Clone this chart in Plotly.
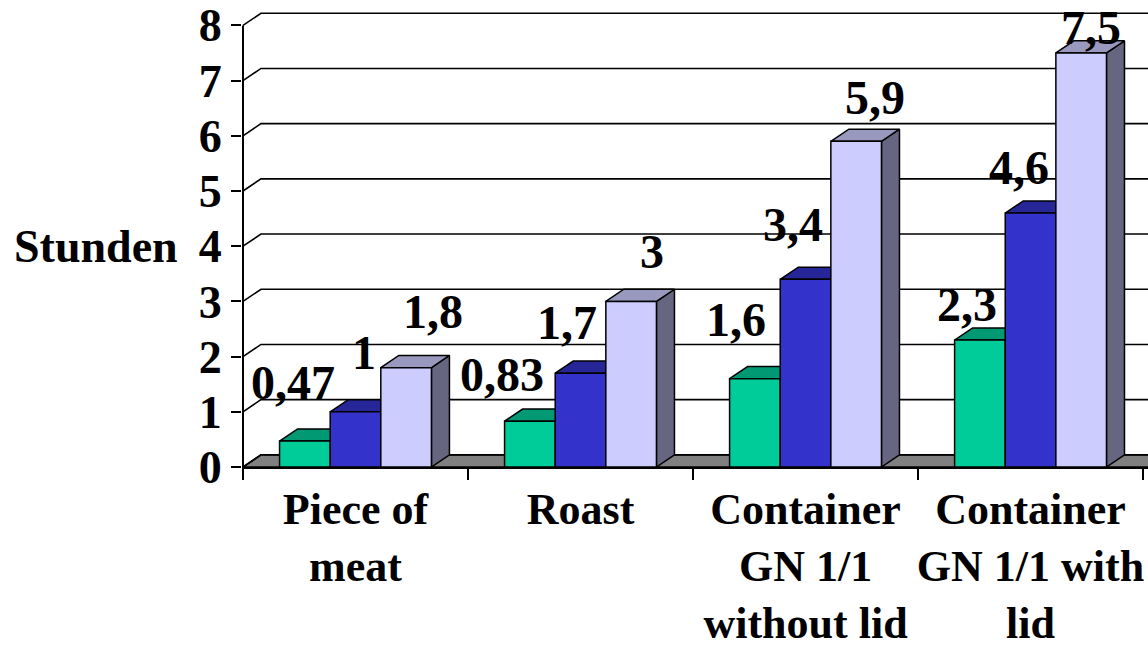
import plotly.graph_objects as go

# ---- data -------------------------------------------------------------
categories = ["Piece of<br>meat", "Roast", "Container<br>GN 1/1<br>without lid",
              "Container<br>GN 1/1 with<br>lid"]
series_1 = [0.47, 0.83, 1.6, 2.3]
series_2 = [1, 1.7, 3.4, 4.6]
series_3 = [1.8, 3, 5.9, 7.5]
y_ticks = [0, 1, 2, 3, 4, 5, 6, 7, 8]
y_title = "Stunden"

# ---- styling ----------------------------------------------------------
FONT = "Liberation Serif, Times New Roman, serif"
BAR_W = 0.225          # width of one bar in category units
DX, DY = 0.08, 0.22    # oblique depth offset (x in category units, y in hours)
X_RANGE = [-0.0044, 4.022]
Y_RANGE = [0, 8.46]
X_END = 4.3            # wall/floor run past the right edge

# face colours: front, top, side
COLORS = [
    ("#00CC99", "#009973", "#00664D"),
    ("#3333CC", "#262699", "#1A1A66"),
    ("#CCCCFF", "#9999BF", "#666680"),
]
# label placement nudges (px): horizontal shift, baseline height above bar top
LABEL_DX = [[-12, -28, -19, -13], [8, -14, -13, -12], [27, 21, 19, 10]]
LABEL_RISE = [[29, 17, 30, 6], [30, 21, 25, 16], [26, 20, 14, -4]]
DESCENT = 11

series = [series_1, series_2, series_3]
centers = [i + 0.5 for i in range(len(categories))]

fig = go.Figure()

# floor
fig.add_trace(go.Scatter(
    x=[0, X_END, X_END, DX, 0], y=[0, 0, DY, DY, 0],
    mode="lines", fill="toself", fillcolor="#808080",
    line=dict(color="black", width=1.5), hoverinfo="skip", showlegend=False))

# back-wall gridlines with their side-wall connectors
gx, gy = [], []
for v in y_ticks:
    gx += [0, DX, X_END, None]
    gy += [v, v + DY, v + DY, None]
fig.add_trace(go.Scatter(x=gx, y=gy, mode="lines",
                         line=dict(color="black", width=1.6),
                         hoverinfo="skip", showlegend=False))

# value axis line
fig.add_trace(go.Scatter(x=[0, 0], y=[y_ticks[0], y_ticks[-1]], mode="lines",
                         line=dict(color="black", width=2),
                         hoverinfo="skip", showlegend=False))

# side and top faces of the bars
for s, vals in enumerate(series):
    front, top, side = COLORS[s]
    sx, sy, tx, ty = [], [], [], []
    for i, v in enumerate(vals):
        xl = centers[i] + (s - 1) * BAR_W - BAR_W / 2
        xr = xl + BAR_W
        sx += [xr, xr + DX, xr + DX, xr, xr, None]
        sy += [0, DY, v + DY, v, 0, None]
        tx += [xl, xr, xr + DX, xl + DX, xl, None]
        ty += [v, v, v + DY, v + DY, v, None]
    fig.add_trace(go.Scatter(x=sx, y=sy, mode="lines", fill="toself", fillcolor=side,
                             line=dict(color="black", width=1.5),
                             hoverinfo="skip", showlegend=False))
    fig.add_trace(go.Scatter(x=tx, y=ty, mode="lines", fill="toself", fillcolor=top,
                             line=dict(color="black", width=1.5),
                             hoverinfo="skip", showlegend=False))

# front faces (overlaid axes so they sit above the side/top faces)
for s, vals in enumerate(series):
    fig.add_trace(go.Bar(
        x=[c + (s - 1) * BAR_W for c in centers], y=vals, width=BAR_W,
        marker=dict(color=COLORS[s][0], line=dict(color="black", width=1.5)),
        xaxis="x2", yaxis="y2", showlegend=False))

# value labels
annotations = []
for s, vals in enumerate(series):
    for i, v in enumerate(vals):
        annotations.append(dict(
            x=centers[i] + (s - 1) * BAR_W, y=v + DY, xref="x2", yref="y2",
            text=f"{v:g}".replace(".", ","), showarrow=False,
            xanchor="center", yanchor="bottom",
            xshift=LABEL_DX[s][i], yshift=LABEL_RISE[s][i] - DESCENT,
            font=dict(family=FONT, size=48, color="black", weight="bold")))

annotations.append(dict(
    x=-(242 - 180) / 906, y=4, xref="paper", yref="y",
    text=y_title, showarrow=False, xanchor="right", yanchor="middle",
    font=dict(family=FONT, size=46, color="black", weight="bold")))

fig.update_layout(
    width=1148, height=649,
    margin=dict(l=242, r=0, t=0, b=182, autoexpand=False),
    paper_bgcolor="white", plot_bgcolor="white",
    barmode="overlay",
    xaxis=dict(range=X_RANGE, tickmode="array", tickvals=[0, 1, 2, 3, 4],
               ticks="outside", ticklen=11, tickwidth=2, tickcolor="black",
               showticklabels=False, showline=True, linecolor="black", linewidth=2,
               showgrid=False, zeroline=False, automargin=False),
    xaxis2=dict(range=X_RANGE, overlaying="x", anchor="y2", side="bottom",
                tickmode="array", tickvals=centers, ticktext=categories,
                ticks="", tickangle=0, ticklabelstandoff=12,
                showline=False, showgrid=False, zeroline=False, automargin=False,
                tickfont=dict(family=FONT, size=44, color="black", weight="bold")),
    yaxis=dict(range=Y_RANGE, tickmode="array", tickvals=y_ticks,
               ticks="outside", ticklen=10, tickwidth=2, tickcolor="black",
               showline=False, showgrid=False, zeroline=False, automargin=False,
               ticklabeloverflow="allow",
               tickfont=dict(family=FONT, size=46, color="black", weight="bold")),
    yaxis2=dict(range=Y_RANGE, overlaying="y", visible=False),
    annotations=annotations,
)

fig.write_html("out.html")
